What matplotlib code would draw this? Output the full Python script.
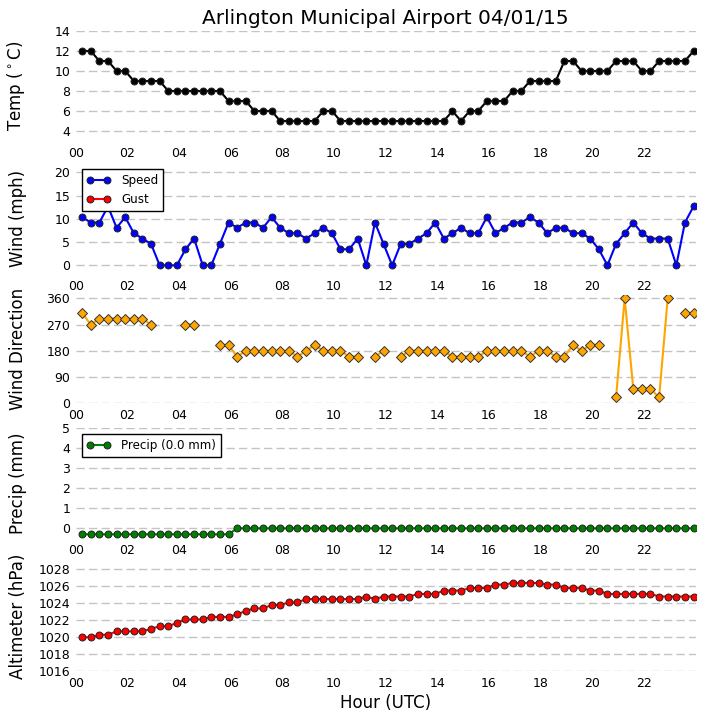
import numpy as np
import matplotlib
matplotlib.use("Agg")
import matplotlib.pyplot as plt

nan = np.nan

title = "Arlington Municipal Airport 04/01/15"

times = [
    "00:15", "00:35", "00:55", "01:15", "01:35", "01:55",
    "02:15", "02:35", "02:55", "03:15", "03:35", "03:55",
    "04:15", "04:35", "04:55", "05:15", "05:35", "05:55",
    "06:15", "06:35", "06:55", "07:15", "07:35", "07:55",
    "08:15", "08:35", "08:55", "09:15", "09:35", "09:55",
    "10:15", "10:35", "10:55", "11:15", "11:35", "11:55",
    "12:15", "12:35", "12:55", "13:15", "13:35", "13:55",
    "14:15", "14:35", "14:55", "15:15", "15:35", "15:55",
    "16:15", "16:35", "16:55", "17:15", "17:35", "17:55",
    "18:15", "18:35", "18:55", "19:15", "19:35", "19:55",
    "20:15", "20:35", "20:55", "21:15", "21:35", "21:55",
    "22:15", "22:35", "22:55", "23:15", "23:35", "23:55",
]

temp_c = [12, 12, 11, 11, 10, 10, 9, 9, 9, 9, 8, 8,
          8, 8, 8, 8, 8, 7, 7, 7, 6, 6, 6, 5,
          5, 5, 5, 5, 6, 6, 5, 5, 5, 5, 5, 5,
          5, 5, 5, 5, 5, 5, 5, 6, 5, 6, 6, 7,
          7, 7, 8, 8, 9, 9, 9, 9, 11, 11, 10, 10,
          10, 10, 11, 11, 11, 10, 10, 11, 11, 11, 11, 12]

wind_mph = [10.36, 9.2, 9.2, 12.66, 8.06, 10.36, 6.9, 5.75, 4.6, 0, 0, 0,
            3.45, 5.75, 0, 0, 4.6, 9.2, 8.06, 9.2, 9.2, 8.06, 10.36, 8.06,
            6.9, 6.9, 5.75, 6.9, 8.06, 6.9, 3.45, 3.45, 5.75, 0, 9.2, 4.6,
            0, 4.6, 4.6, 5.75, 6.9, 9.2, 5.75, 6.9, 8.06, 6.9, 6.9, 10.36,
            6.9, 8.06, 9.2, 9.2, 10.36, 9.2, 6.9, 8.06, 8.06, 6.9, 6.9, 5.75,
            3.45, 0, 4.6, 6.9, 9.2, 6.9, 5.75, 5.75, 5.75, 0, 9.2, 12.66]

gust_mph = [nan] * 72

wind_dir = [310, 270, 290, 290, 290, 290, 290, 290, 270, nan, nan, nan,
            270, 270, nan, nan, 200, 200, 160, 180, 180, 180, 180, 180,
            180, 160, 180, 200, 180, 180, 180, 160, 160, nan, 160, 180,
            nan, 160, 180, 180, 180, 180, 180, 160, 160, 160, 160, 180,
            180, 180, 180, 180, 160, 180, 180, 160, 160, 200, 180, 200,
            200, nan, 20, 360, 50, 50, 50, 20, 360, nan, 310, 310]

precip_mm = [-0.3] * 18 + [0.0] * 54

altimeter_hpa = [1020.0, 1020.0, 1020.3, 1020.3, 1020.7, 1020.7, 1020.7, 1020.7,
                 1021.0, 1021.3, 1021.3, 1021.7, 1022.1, 1022.1, 1022.1, 1022.4,
                 1022.4, 1022.4, 1022.7, 1023.1, 1023.4, 1023.4, 1023.8, 1023.8,
                 1024.1, 1024.1, 1024.5, 1024.5, 1024.5, 1024.5, 1024.5, 1024.5,
                 1024.5, 1024.8, 1024.5, 1024.8, 1024.8, 1024.8, 1024.8, 1025.1,
                 1025.1, 1025.1, 1025.5, 1025.5, 1025.5, 1025.8, 1025.8, 1025.8,
                 1026.2, 1026.2, 1026.4, 1026.4, 1026.4, 1026.4, 1026.2, 1026.2,
                 1025.8, 1025.8, 1025.8, 1025.5, 1025.5, 1025.1, 1025.1, 1025.1,
                 1025.1, 1025.1, 1025.1, 1024.8, 1024.8, 1024.8, 1024.8, 1024.8]

hour_ticks = [0, 2, 4, 6, 8, 10, 12, 14, 16, 18, 20, 22]
hour_labels = ["00", "02", "04", "06", "08", "10", "12", "14", "16", "18", "20", "22"]

x = [int(t[:2]) + int(t[3:]) / 60.0 for t in times]

W, H = 705, 720
fig = plt.figure(figsize=(W / 100, H / 100), dpi=100)

left_px, right_px = 75.7, 695.7


def make_ax(top, bottom):
    return fig.add_axes([left_px / W, 1 - bottom / H, (right_px - left_px) / W, (bottom - top) / H])


def style(ax, ylabel, ylim, yticks):
    ax.set_xlim(0, 24)
    ax.set_ylim(*ylim)
    ax.set_yticks(yticks)
    ax.set_xticks(hour_ticks)
    ax.set_xticklabels(hour_labels)
    for s in ax.spines.values():
        s.set_visible(False)
    ax.tick_params(length=0, labelsize=9, pad=4)
    ax.yaxis.grid(True, linestyle=(0, (6, 3)), color='#c4c4c4', linewidth=1)
    ax.set_axisbelow(True)
    ax.set_ylabel(ylabel, fontsize=12)
    ax.yaxis.set_label_coords(-0.078, 0.5)


mk = dict(markersize=5, markeredgewidth=0.7, markeredgecolor='#222222')
leg_kw = dict(loc='upper left', fontsize=8.6, numpoints=2, handlelength=2.0,
              handletextpad=0.9, fancybox=False, edgecolor='black', framealpha=1)

# Temperature
ax1 = make_ax(31, 141)
ax1.plot(x, temp_c, '-o', color='black', lw=1.5, markerfacecolor='black', **mk)
style(ax1, r"Temp ($^\circ$C)", (3, 14), [4, 6, 8, 10, 12, 14])
ax1.set_title(title, fontsize=14.5, pad=5)

# Wind
ax2 = make_ax(163, 274.6)
ax2.plot(x, wind_mph, '-o', color='blue', lw=1.5, markerfacecolor='blue', label='Speed', **mk)
ax2.plot(x, gust_mph, '-o', color='red', lw=1.5, markerfacecolor='red', label='Gust', **mk)
style(ax2, "Wind (mph)", (-2, 22), [0, 5, 10, 15, 20])
leg = ax2.legend(**leg_kw)
leg.get_frame().set_linewidth(1.0)

# Wind direction
ax3 = make_ax(295.4, 403.3)
ax3.plot(x, wind_dir, '-D', color='orange', lw=1.5, markerfacecolor='orange',
         markersize=4.8, markeredgewidth=0.7, markeredgecolor='#333333')
style(ax3, "Wind Direction", (0, 370), [0, 90, 180, 270, 360])

# Precip
ax4 = make_ax(428.3, 538.3)
ax4.plot(x, precip_mm, '-o', color='green', lw=1.5, markerfacecolor='green',
         label='Precip (0.0 mm)', **mk)
style(ax4, "Precip (mm)", (-0.5, 5), [0, 1, 2, 3, 4, 5])
leg = ax4.legend(**leg_kw)
leg.get_frame().set_linewidth(1.0)

# Altimeter
ax5 = make_ax(560.8, 671.3)
ax5.plot(x, altimeter_hpa, '-o', color='red', lw=1.5, markerfacecolor='red', **mk)
style(ax5, "Altimeter (hPa)", (1016, 1029), [1016, 1018, 1020, 1022, 1024, 1026, 1028])
ax5.set_xlabel("Hour (UTC)", fontsize=12, labelpad=3)

fig.savefig("out.png", dpi=100)
